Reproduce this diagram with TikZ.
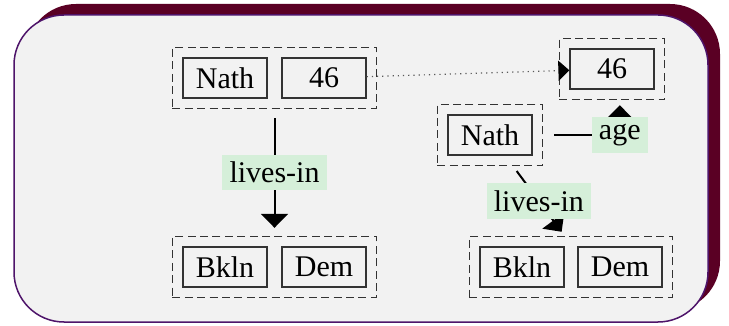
\documentclass[tikz,border=0pt]{standalone}
\usepackage{fontspec}
\setmainfont{Liberation Serif}
\usepackage{tikz}
\usetikzlibrary{positioning}
\usetikzlibrary{fit}
\usetikzlibrary{arrows.meta}
\definecolor{panelgray}{HTML}{F2F2F2}
\definecolor{shadowred}{HTML}{5A0024}
\definecolor{rimpurple}{HTML}{4E146A}
\definecolor{taggreen}{HTML}{D5EFD9}

\begin{document}
\begin{tikzpicture}[x=0.5pt,y=0.5pt,
 cell/.style={draw=black!80, line width=0.6pt, minimum width=42pt,
 minimum height=20pt, inner sep=0pt, font=\fontsize{15}{18}\selectfont},
 group/.style={draw=black!80, line width=0.6pt,
 dash pattern=on 4pt off 2.2pt, inner sep=5pt},
 tag/.style={fill=taggreen, inner sep=3.6pt, font=\fontsize{15}{18}\selectfont},
 rel/.style={line width=1pt, -{Triangle[width=13.5pt,length=7pt]},
 shorten <=4.5pt, shorten >=4pt},
 link/.style={black!65, line width=0.6pt, dotted,
 -{Triangle[width=10pt,length=5.5pt,black]}}]
\useasboundingbox (0,0) rectangle (729,-326);

\fill[shadowred, rounded corners=25pt] (26,-4) rectangle (720,-311);
\filldraw[fill=panelgray, draw=rimpurple, line width=0.75pt, rounded corners=25pt]
 (14,-15) rectangle (708,-322);

\node[cell] (nathL) at (225,-78) {Nath};
\node[cell] (ageL) at (324,-78) {46};
\node[group, fit=(nathL)(ageL)] (recL) {};

\node[cell] (bklnL) at (225,-267) {Bkln};
\node[cell] (demL) at (324,-267) {Dem};
\node[group, fit=(bklnL)(demL)] (homeL) {};

\node[cell] (ageR) at (612,-69) {46};
\node[group, fit=(ageR)] (recA) {};

\node[cell] (nathR) at (490,-135) {Nath};
\node[group, fit=(nathR)] (recN) {};

\node[cell] (bklnR) at (522,-267) {Bkln};
\node[cell] (demR) at (620,-267) {Dem};
\node[group, fit=(bklnR)(demR)] (homeR) {};

\draw[link] (ageL) -- (ageR);
\draw[rel] (recL) -- (homeL) node[midway, tag] {lives-in};
\draw[rel, shorten <=5.5pt, shorten >=2.5pt] (recN) -| ([xshift=3.9pt]recA.south)
 node[pos=0.5, tag] {age};
\draw[rel, shorten <=3pt, shorten >=2.5pt] (recN) -- ([xshift=-3.2pt]homeR.north)
 node[midway, tag] {lives-in};
\end{tikzpicture}
\end{document}
